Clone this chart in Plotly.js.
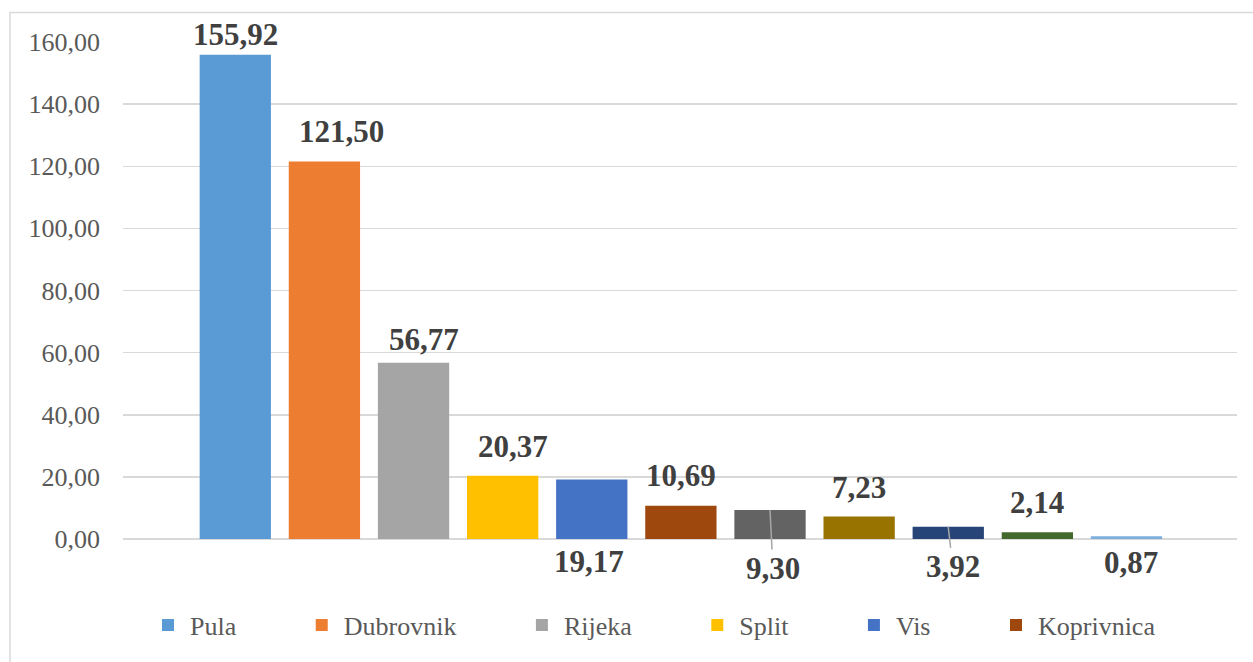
<!DOCTYPE html>
<html>
<head>
<meta charset="utf-8">
<script src="https://cdn.plot.ly/plotly-3.0.1.min.js"></script>
<style>html,body{margin:0;padding:0;background:#fff;}#chart{width:1253px;height:662px;}</style>
</head>
<body>
<div id="chart"></div>
<script>
// ---- data ----
const cities = ['Pula', 'Dubrovnik', 'Rijeka', 'Split', 'Vis', 'Koprivnica',
                'Grad 7', 'Grad 8', 'Grad 9', 'Grad 10', 'Grad 11'];
const values = [155.92, 121.50, 56.77, 20.37, 19.17, 10.69, 9.30, 7.23, 3.92, 2.14, 0.87];
const yTicks = [0, 20, 40, 60, 80, 100, 120, 140, 160];
const legendCount = 6;

// ---- styles ----
const colors = ['#5B9BD5', '#ED7D31', '#A5A5A5', '#FFC000', '#4472C4', '#9E480E',
                '#636363', '#997300', '#264478', '#43682B', '#7CAFDD'];
const labelPlacement = ['above','above','above','above','below','above','leader','above','leader','above','below'];
const labelDx = [0, 17, 10, 10, -3, 0, 3, 0, 4.5, 0, 4.5];
const labelDy = [20, 30, 23, 29, -22, 30, 58.5, 29, 40, 30, -23];

const serif = 'Liberation Serif';
const fmt = v => v.toFixed(2).replace('.', ',');
const pad = '\u00A0'.repeat(9);

const traces = cities.map((c, i) => ({
  type: 'bar',
  x: [c],
  y: [values[i]],
  name: c + pad,
  marker: { color: colors[i] },
  showlegend: i < legendCount,
  hovertemplate: c + ': %{y:.2f}<extra></extra>'
}));

const annotations = cities.map((c, i) => {
  const p = labelPlacement[i];
  const base = {
    x: c, xref: 'x', yref: 'y',
    text: '<b>' + fmt(values[i]) + '</b>',
    font: { family: serif, size: 31, color: '#404040' },
    xanchor: 'center', yanchor: 'middle'
  };
  if (p === 'leader') {
    return Object.assign(base, {
      y: values[i], showarrow: true, arrowhead: 0, arrowwidth: 1.5,
      arrowcolor: '#A6A6A6', ax: labelDx[i], ay: labelDy[i], standoff: 0
    });
  }
  return Object.assign(base, {
    y: p === 'above' ? values[i] : 0,
    showarrow: false, xshift: labelDx[i], yshift: labelDy[i]
  });
});

const plotL = 123, plotR = 1237, plotT = 42, plotB = 539;
const pw = plotR - plotL, ph = plotB - plotT;

const layout = {
  width: 1253, height: 662,
  margin: { l: plotL, r: 1253 - plotR, t: plotT, b: 662 - plotB, pad: 0 },
  paper_bgcolor: '#fff', plot_bgcolor: '#fff',
  separators: ', ',
  barmode: 'overlay', bargap: 0.2,
  font: { family: serif, size: 26, color: '#595959' },
  xaxis: {
    type: 'category', categoryorder: 'array', categoryarray: cities,
    range: [-1.26, cities.length - 1 + 1.24],
    showticklabels: false, showgrid: false, zeroline: false, showline: false, ticks: ''
  },
  yaxis: {
    range: [0, 160], tickvals: yTicks, tickformat: '.2f',
    showgrid: true, gridcolor: '#D9D9D9', gridwidth: 1.5,
    zeroline: true, zerolinecolor: '#D9D9D9', zerolinewidth: 1.5,
    showline: false, ticks: '', ticklabelstandoff: 22,
    tickfont: { family: serif, size: 26, color: '#595959' }
  },
  legend: {
    orientation: 'h', x: (146 - plotL) / pw, xanchor: 'left',
    y: (plotB - 625) / ph, yanchor: 'middle', itemwidth: 34,
    font: { family: serif, size: 26, color: '#595959' },
    bgcolor: 'rgba(0,0,0,0)', traceorder: 'normal'
  },
  annotations: annotations,
  shapes: [{
    type: 'rect', xref: 'paper', yref: 'paper', layer: 'below',
    x0: (10 - plotL) / pw, x1: (1300 - plotL) / pw,
    y0: (plotB - 700) / ph, y1: (plotB - 12.5) / ph,
    line: { color: '#D9D9D9', width: 1.5 }, fillcolor: 'rgba(0,0,0,0)'
  }],
  showlegend: true
};

Plotly.newPlot('chart', traces, layout, { displayModeBar: false, staticPlot: true });
</script>
</body>
</html>
